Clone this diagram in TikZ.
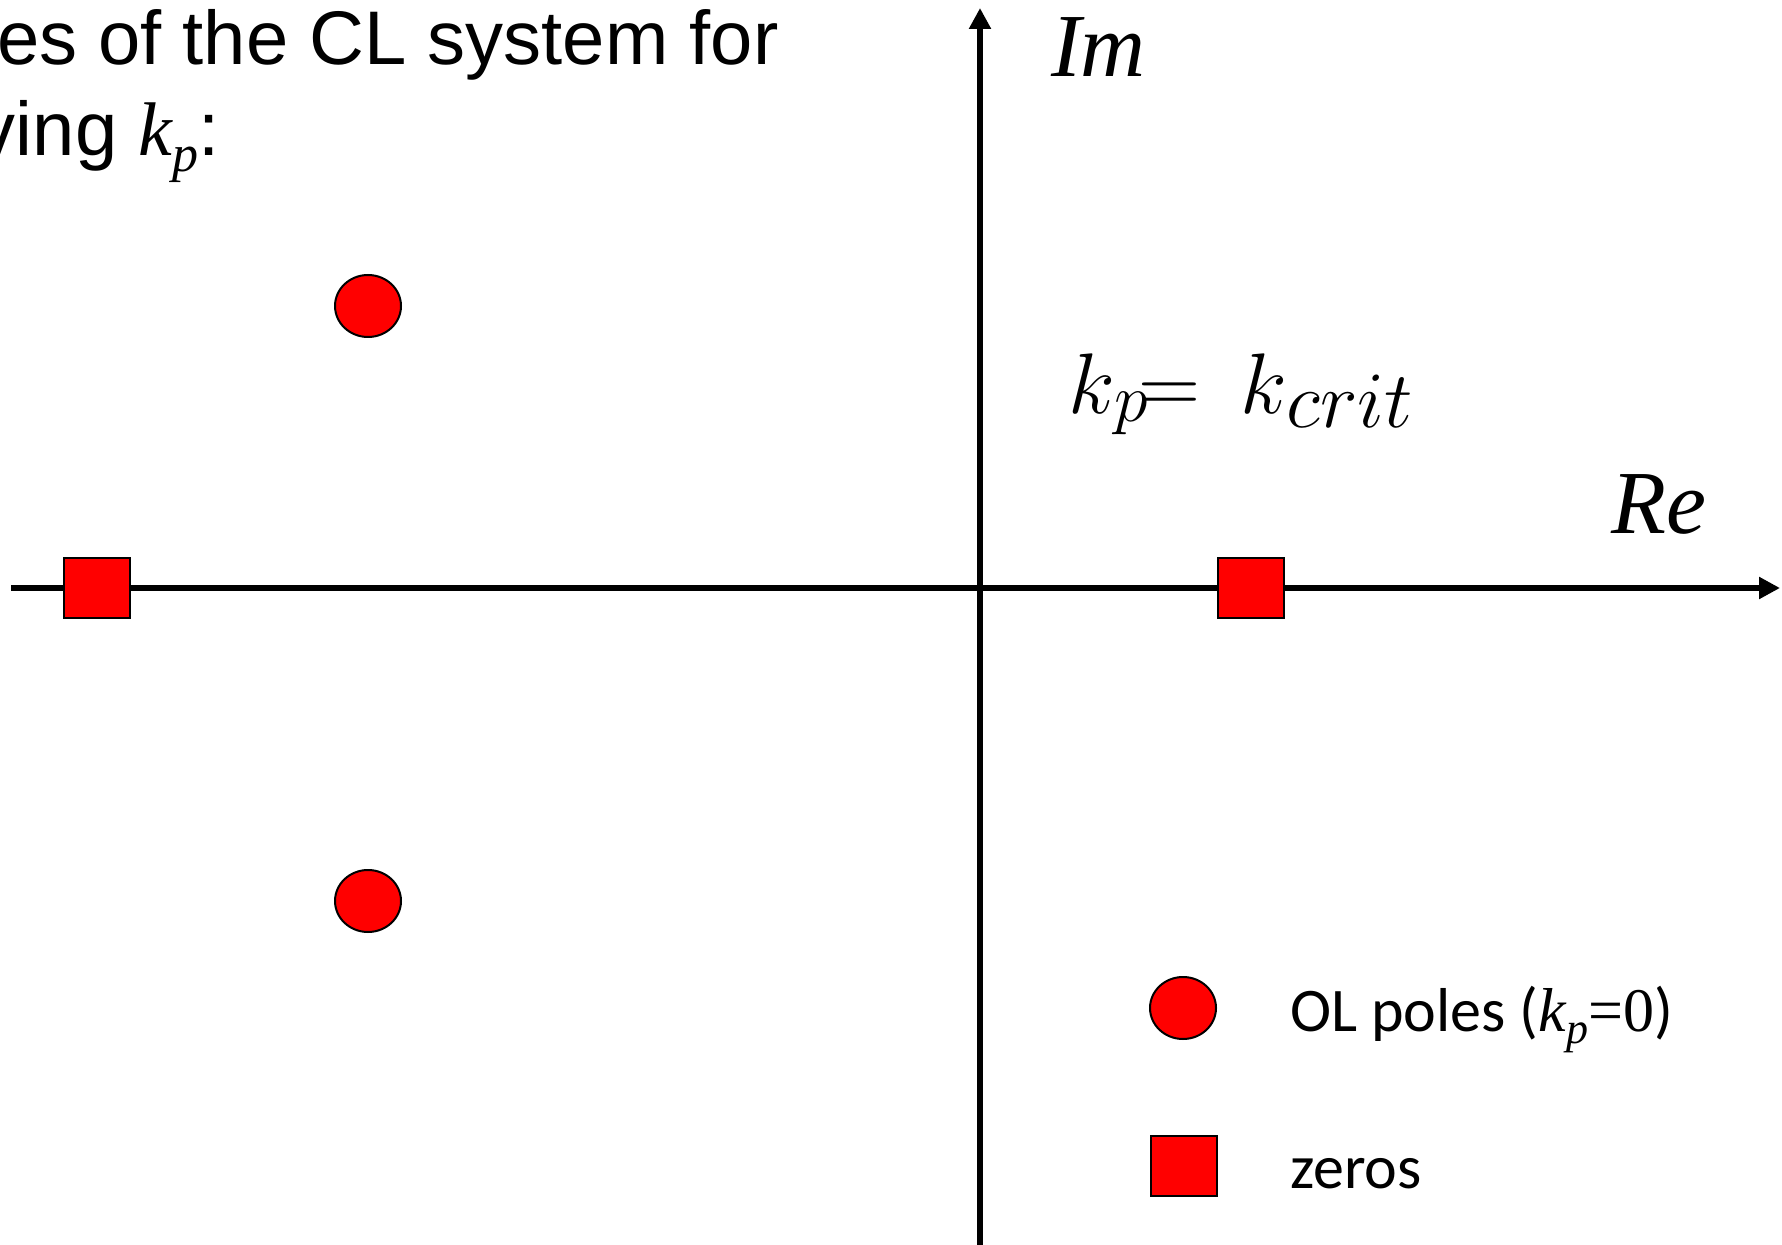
\RequirePackage{fix-cm}
\documentclass[tikz,border=0pt]{standalone}
\usepackage{fontspec}
\newfontfamily\sansA{Liberation Sans}
\newfontfamily\serifT{Liberation Serif}
\newfontfamily\bodyC{Carlito}
\usetikzlibrary{arrows.meta,shapes.geometric}

\tikzset{
  axisline/.style={line width=2.9pt, -{Triangle[length=10.5pt,width=10.5pt]}},
  pole/.style={draw, ellipse, fill=red, line width=1pt, inner sep=0pt,
    minimum width=33pt, minimum height=31pt},
  zero/.style={draw, rectangle, fill=red, line width=1pt, inner sep=0pt,
    minimum width=33pt, minimum height=30pt},
  lbl/.style={anchor=base west, inner sep=0pt, outer sep=0pt},
}

\begin{document}
\begin{tikzpicture}[x=0.5pt, y=-0.5pt]
  \useasboundingbox (0,0) rectangle (1782,1245);

  % heading
  \node[lbl, font={\sansA\fontsize{38}{44}\selectfont}] (head1) at (-3,65)
    {es of the CL system for};
  \node[lbl, font={\sansA\fontsize{38}{44}\selectfont}] (head2) at (-22,156)
    {ving {\serifT\itshape k}\raisebox{-8pt}{\fontsize{26}{30}\selectfont\serifT\itshape p}:};

  % complex plane axes
  \coordinate (reL) at (11,588);
  \coordinate (reR) at (1780,588);
  \coordinate (imB) at (980,1250);
  \coordinate (imT) at (980,8);
  \draw[axisline] (reL) -- (reR);
  \draw[axisline] (imB) -- (imT);

  \node[lbl, font={\serifT\itshape\fontsize{45}{52}\selectfont}] (imlbl) at (1051,77) {Im};
  \node[lbl, font={\serifT\itshape\fontsize{45}{52}\selectfont}] (relbl) at (1611,534) {Re};

  % gain annotation
  \node[lbl] (gain) at (1068,414)
    {\fontsize{43}{50}\selectfont$k$\raisebox{-4pt}{\fontsize{34}{40}\selectfont$p$}\hspace{-5pt}$=$\hspace{20pt}$k$\raisebox{-7pt}{\fontsize{40}{46}\selectfont$crit$}};

  % open-loop poles and zeros
  \node[pole] (p1) at (368,306) {};
  \node[pole] (p2) at (368,901) {};
  \node[zero] (z1) at (97,588) {};
  \node[zero] (z2) at (1251,588) {};

  % legend
  \node[pole] (lgp) at (1183,1008) {};
  \node[zero] (lgz) at (1184,1166) {};
  \node[lbl, font={\bodyC\fontsize{31}{36}\selectfont}] (lgptxt) at (1290,1031)
    {OL poles ({\serifT\itshape k}\raisebox{-6pt}{\fontsize{22}{26}\selectfont\serifT\itshape p}{\serifT =0})};
  \node[lbl, font={\bodyC\fontsize{31}{36}\selectfont}] (lgztxt) at (1290,1188) {zeros};
\end{tikzpicture}
\end{document}
